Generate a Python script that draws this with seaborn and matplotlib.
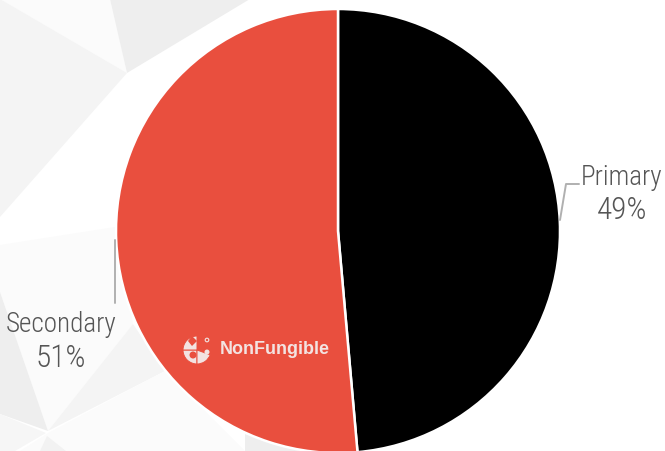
import matplotlib
matplotlib.use("Agg")
import matplotlib.pyplot as plt
from matplotlib.patches import Polygon, Wedge, Circle
import seaborn as sns

sns.set_theme(style="white")
plt.rcParams["font.family"] = ["Roboto Condensed", "Roboto", "DejaVu Sans"]

# shares, the labels round them
categories = ["Primary", "Secondary"]
shares = [48.6, 51.4]
colors = ["#000000", "#e94f3e"]

W, H = 665, 452
fig = plt.figure(figsize=(W / 100, H / 100), dpi=100, facecolor="white")

# faint low-poly backdrop, drawn in pixel coords
bg = fig.add_axes([0, 0, 1, 1])
bg.set_xlim(0, W)
bg.set_ylim(H, 0)
bg.axis("off")
polys = [
    ([(0, 0), (110, 0), (127, 74)], "#fbfbfb"),
    ([(110, 0), (127, 74), (250, 0)], "#eeeeee"),
    ([(0, 0), (127, 74), (0, 218)], "#f4f4f4"),
    ([(0, 246), (115, 228), (133, 325), (48, 432), (0, 293)], "#fbfbfb"),
    ([(0, 293), (48, 432), (0, 415)], "#eeeeee"),
    ([(48, 432), (133, 325), (165, 372)], "#f4f4f4"),
    ([(48, 434), (165, 372), (245, 452), (20, 452)], "#fbfbfb"),
    ([(0, 415), (46, 434), (15, 452), (0, 452)], "#f6f6f6"),
    ([(40, 452), (47, 437), (66, 452)], "#f2f2f2"),
    ([(245, 452), (245, 435), (310, 452)], "#eeeeee"),
]
for pts, c in polys:
    bg.add_patch(Polygon(pts, closed=True, fc=c, ec="none"))

# pie
cx, cy, r = 338, 232, 222
ax = fig.add_axes([(cx - r) / W, 1 - (cy + r) / H, 2 * r / W, 2 * r / H])
ax.pie(shares, colors=colors, startangle=90, counterclock=False, radius=1,
       wedgeprops={"edgecolor": "white", "linewidth": 1.8, "clip_on": False})
ax.set_xlim(-1, 1)
ax.set_ylim(-1, 1)
ax.patch.set_alpha(0)

# labels, leader lines and watermark on top
top = fig.add_axes([0, 0, 1, 1])
top.set_xlim(0, W)
top.set_ylim(H, 0)
top.axis("off")
top.plot([560, 566, 579], [221, 185, 185], color="#b0b0b0", lw=1.4)
top.plot([115, 115], [241, 304], color="#b0b0b0", lw=1.4)
label_spots = [(622, 178, 211), (61, 325, 359)]
for name, share, (x, y1, y2) in zip(categories, shares, label_spots):
    top.text(x, y1, name, ha="center", va="center", fontsize=19.5, fontweight="light", color="#555555")
    top.text(x, y2, f"{share:.0f}%", ha="center", va="center", fontsize=22.5, fontweight="light", color="#555555")

logo = "#f3e3e1"
red = colors[1]
lx, ly = 197, 351
for a, b in [(90, 180), (180, 270), (20, 90)]:
    top.add_patch(Wedge((lx, ly), 14, a, b, fc=logo, ec=red, lw=0.7))
top.add_patch(Polygon([(188, 342), (192, 337), (197, 342), (192, 347)], fc=red, ec="none"))
top.add_patch(Circle((193, 356), 3.5, fc=red, ec="none"))
top.add_patch(Circle((207, 353), 2.5, fc=logo, ec="none"))
top.add_patch(Circle((207, 341), 1.8, fc="none", ec=logo, lw=0.8))
top.text(220, 349.5, "NonFungible", ha="left", va="center", fontsize=13, fontweight="bold",
         family=["Liberation Sans", "DejaVu Sans"], color=logo)

fig.savefig("out.png", dpi=100)
